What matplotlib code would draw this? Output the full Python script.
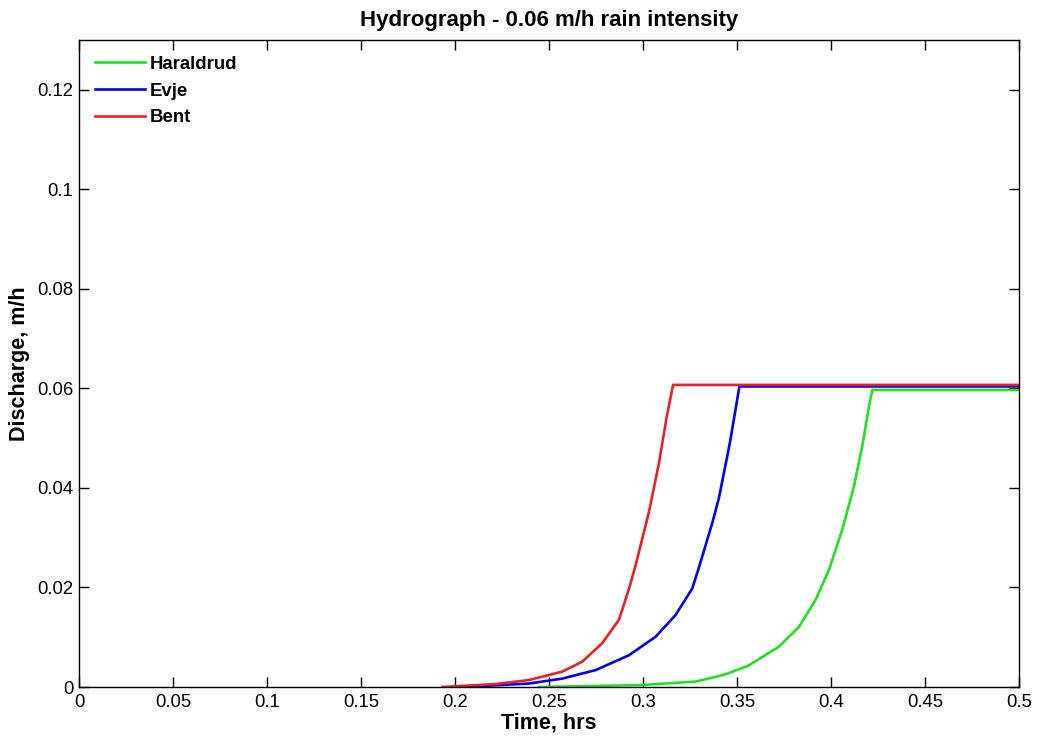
import matplotlib
matplotlib.use("Agg")
import matplotlib.pyplot as plt

plt.rcParams['font.family'] = ['Liberation Sans', 'DejaVu Sans']

# Hydrograph curves (time in hrs, discharge in m/h)
haraldrud_t = [0.2447, 0.2996, 0.328, 0.3404, 0.3457, 0.3555, 0.3582, 0.3723, 0.383,
               0.3918, 0.3989, 0.406, 0.4122, 0.4166, 0.4202, 0.422, 0.5]
haraldrud_q = [0.0, 0.0004, 0.0011, 0.0022, 0.0028, 0.0042, 0.0048, 0.0081, 0.0121,
               0.0175, 0.0235, 0.0316, 0.0403, 0.0483, 0.0563, 0.0597, 0.0597]

evje_t = [0.2037, 0.2394, 0.2571, 0.2748, 0.2926, 0.3067, 0.3174, 0.3262, 0.3295,
          0.3369, 0.3404, 0.3422, 0.3462, 0.3488, 0.3513, 0.5]
evje_q = [0.0, 0.0007, 0.0017, 0.0034, 0.0064, 0.0101, 0.0145, 0.0198, 0.0237,
          0.0330, 0.0380, 0.0414, 0.0490, 0.0548, 0.0604, 0.0604]

bent_t = [0.1932, 0.2216, 0.2394, 0.2571, 0.2677, 0.2783, 0.2872, 0.2926, 0.2961,
          0.3032, 0.3085, 0.3125, 0.316, 0.5]
bent_q = [0.0, 0.0006, 0.0014, 0.0031, 0.0051, 0.0088, 0.0135, 0.0198, 0.0245,
          0.0352, 0.0450, 0.0540, 0.0607, 0.0607]

series_names = ['Haraldrud', 'Evje', 'Bent']
series_colors = ['#22e022', '#0000ee', '#e8202a']

x_ticks = [0, 0.05, 0.1, 0.15, 0.2, 0.25, 0.3, 0.35, 0.4, 0.45, 0.5]
x_tick_labels = ['0', '0.05', '0.1', '0.15', '0.2', '0.25', '0.3', '0.35', '0.4', '0.45', '0.5']
y_ticks = [0, 0.02, 0.04, 0.06, 0.08, 0.1, 0.12]
y_tick_labels = ['0', '0.02', '0.04', '0.06', '0.08', '0.1', '0.12']

fig = plt.figure(figsize=(10.37, 7.37), dpi=100)
ax = fig.add_axes([0.0762, 0.0678, 0.9064, 0.8779])

ax.plot(haraldrud_t, haraldrud_q, color=series_colors[0], lw=1.9,
        label=series_names[0], solid_joinstyle='round')
ax.plot(evje_t, evje_q, color=series_colors[1], lw=1.9,
        label=series_names[1], solid_joinstyle='round')
ax.plot(bent_t, bent_q, color=series_colors[2], lw=1.9,
        label=series_names[2], solid_joinstyle='round')

ax.set_xlim(0, 0.5)
ax.set_ylim(0, 0.13)
ax.set_xticks(x_ticks)
ax.set_xticklabels(x_tick_labels)
ax.set_yticks(y_ticks)
ax.set_yticklabels(y_tick_labels)
ax.tick_params(direction='in', top=True, right=True, length=7, width=1,
               labelsize=13.3, colors='black')
ax.tick_params(axis='x', pad=5)
ax.tick_params(axis='y', pad=4)
for sp in ax.spines.values():
    sp.set_linewidth(1.0)

ax.set_xlabel('Time, hrs', fontsize=15.5, fontweight='bold', labelpad=1)
ax.set_ylabel('Discharge, m/h', fontsize=15.5, fontweight='bold', labelpad=5)
ax.set_title('Hydrograph - 0.06 m/h rain intensity', fontsize=16, fontweight='bold', pad=10)

ax.legend(loc='upper left', frameon=False, handlelength=2.7,
          handletextpad=0.25, labelspacing=0.52, borderaxespad=0.45,
          prop={'weight': 'bold', 'size': 13.4})

fig.savefig('out.png', dpi=100, facecolor='white')
